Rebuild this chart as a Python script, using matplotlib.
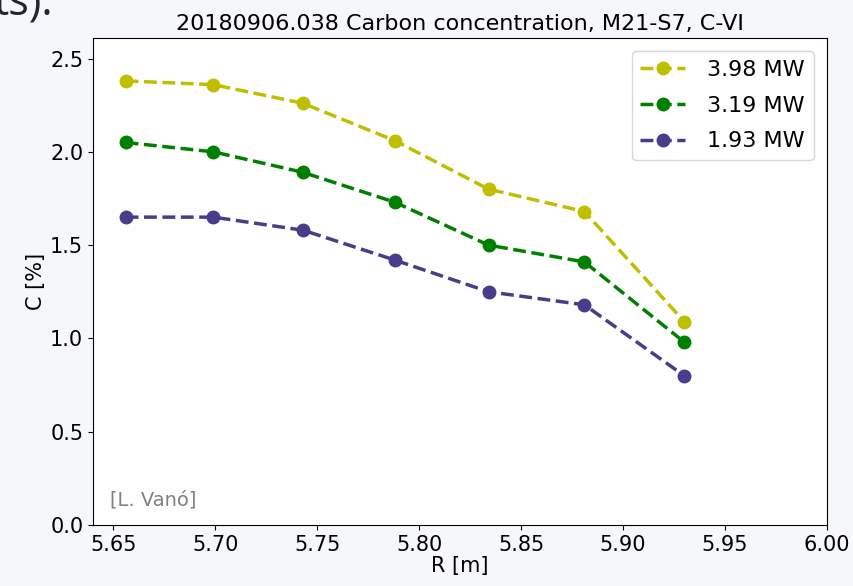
import numpy as np
import matplotlib.pyplot as plt

# radial positions [m]
R = [5.656, 5.699, 5.743, 5.788, 5.834, 5.881, 5.930]

# carbon concentration [%] for each heating power
C_398 = [2.38, 2.36, 2.26, 2.06, 1.80, 1.68, 1.09]
C_319 = [2.05, 2.00, 1.89, 1.73, 1.50, 1.41, 0.98]
C_193 = [1.65, 1.65, 1.58, 1.42, 1.25, 1.18, 0.80]

labels = ["3.98 MW", "3.19 MW", "1.93 MW"]
colores = ["#bfbf00", "#008000", "#483d8b"]

plt.rcParams['font.family'] = ['DejaVu Sans']

fig = plt.figure(figsize=(8.54, 5.86), dpi=100)
fig.patch.set_facecolor("#f6f7fb")
ax = fig.add_axes([93/854, 1-525/586, (827-93)/854, (525-38)/586])
ax.set_facecolor("white")

for datos, lab, col in zip([C_398, C_319, C_193], labels, colores):
    ax.plot(R, datos, "--o", color=col, lw=2.5, ms=9, label=lab)

ax.set_xlim(5.64, 6.00)
ax.set_ylim(0, 2.61)
ax.set_xticks([5.65, 5.70, 5.75, 5.80, 5.85, 5.90, 5.95, 6.00])
ax.set_yticks([0.0, 0.5, 1.0, 1.5, 2.0, 2.5])
ax.tick_params(labelsize=15)
ax.set_xlabel("R [m]", fontsize=15, labelpad=1)
ax.set_ylabel("C [%]", fontsize=15, labelpad=3)
ax.set_title("20180906.038 Carbon concentration, M21-S7, C-VI", fontsize=16, pad=6)

ax.legend(loc=1, fontsize=16, handlelength=2.0, handletextpad=1.0,
          borderaxespad=0.6, labelspacing=0.7)
ax.text(0.023, 0.041, "[L. Vanó]", transform=ax.transAxes, fontsize=14,
        color="gray")

fig.text(-0.008, 1 - 14/586, "ts).", fontsize=31, color="#1e2533",
         va="baseline", family="Open Sans")

fig.savefig("out.png", dpi=100, facecolor=fig.get_facecolor())
